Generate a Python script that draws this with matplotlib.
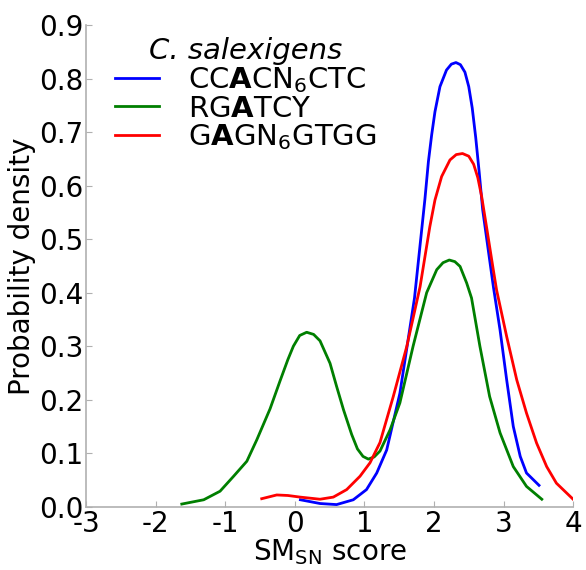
import matplotlib
matplotlib.use("Agg")
import matplotlib.pyplot as plt

plt.rcParams['axes.unicode_minus'] = False
plt.rcParams['mathtext.default'] = 'regular'
plt.rcParams['font.family'] = ['DejaVu Sans']

blue_x = [0.08, 0.362, 0.60, 0.84, 1.03, 1.177, 1.32, 1.51, 1.72, 1.87, 1.92, 1.967, 2.014, 2.086, 2.18, 2.25, 2.316,
          2.38, 2.445, 2.50, 2.55, 2.60, 2.65, 2.70, 2.78, 2.855, 2.95, 3.045, 3.14, 3.24, 3.33, 3.51]
blue_y = [0.013, 0.006, 0.004, 0.013, 0.032, 0.063, 0.106, 0.212, 0.39, 0.575, 0.645, 0.695, 0.738, 0.785, 0.816, 0.827, 0.830,
          0.826, 0.812, 0.785, 0.745, 0.690, 0.625, 0.555, 0.480, 0.410, 0.33, 0.237, 0.15, 0.094, 0.063, 0.04]

green_x = [-1.625, -1.31, -1.075, -0.88, -0.69, -0.547, -0.356, -0.213, -0.10, -0.021, 0.07, 0.17, 0.27, 0.362, 0.506, 0.60,
           0.70, 0.817, 0.90, 0.98, 1.056, 1.14, 1.224, 1.37, 1.51, 1.70, 1.895, 2.04, 2.13, 2.22, 2.30, 2.375, 2.47, 2.54,
           2.66, 2.80, 2.95, 3.14, 3.33, 3.55]
green_y = [0.005, 0.013, 0.029, 0.057, 0.085, 0.125, 0.183, 0.235, 0.275, 0.300, 0.320, 0.326, 0.322, 0.310, 0.268, 0.225,
           0.181, 0.135, 0.108, 0.094, 0.089, 0.093, 0.104, 0.144, 0.194, 0.30, 0.40, 0.443, 0.456, 0.461, 0.458, 0.449, 0.418,
           0.39, 0.30, 0.206, 0.138, 0.075, 0.038, 0.014]

red_x = [-0.476, -0.26, -0.10, 0.075, 0.362, 0.553, 0.745, 0.937, 1.08, 1.224, 1.415, 1.61, 1.80, 1.87, 1.94, 2.014, 2.11,
         2.23, 2.32, 2.41, 2.50, 2.57, 2.63, 2.685, 2.765, 2.85, 2.90, 3.045, 3.19, 3.33, 3.475, 3.62, 3.76, 4.0]
red_y = [0.015, 0.022, 0.021, 0.018, 0.014, 0.018, 0.032, 0.057, 0.082, 0.12, 0.206, 0.30, 0.411, 0.467, 0.523, 0.573, 0.617,
         0.648, 0.658, 0.660, 0.655, 0.640, 0.615, 0.580, 0.515, 0.445, 0.405, 0.318, 0.237, 0.175, 0.119, 0.075, 0.044, 0.014]

labels = [r"CC$\mathbf{A}$CN$_6$CTC", r"RG$\mathbf{A}$TCY", r"G$\mathbf{A}$GN$_6$GTGG"]
colors = ["#0000ff", "#007f00", "#ff0000"]
legend_title = "C. salexigens"

x_ticks = [-3, -2, -1, 0, 1, 2, 3, 4]
y_ticks = [0.0, 0.1, 0.2, 0.3, 0.4, 0.5, 0.6, 0.7, 0.8, 0.9]

fig = plt.figure(figsize=(5.86, 5.70), dpi=100)
ax = fig.add_axes([0.147, 0.111, 0.831, 0.845])

for xs, ys, c, lab in zip([blue_x, green_x, red_x], [blue_y, green_y, red_y], colors, labels):
    ax.plot(xs, ys, color=c, lw=2, label=lab, solid_joinstyle='round')

ax.set_xlim(-3, 4)
ax.set_ylim(0, 0.9)
ax.set_xticks(x_ticks)
ax.set_xticklabels([str(t) for t in x_ticks])
ax.set_yticks(y_ticks)
ax.set_yticklabels([f"{t:.1f}" for t in y_ticks])
ax.tick_params(direction='in', length=4, color='#b0b0b0', labelsize=20, pad=2)
for s in ['top', 'right']:
    ax.spines[s].set_visible(False)
for s in ['left', 'bottom']:
    ax.spines[s].set_color('#b0b0b0')
    ax.spines[s].set_linewidth(1.2)

ax.set_xlabel(r"SM$_{SN}$ score", fontsize=20, labelpad=0)
ax.set_ylabel("Probability density", fontsize=20, labelpad=2)

leg = ax.legend(loc='upper left', bbox_to_anchor=(0.035, 1.0), frameon=False, fontsize=21,
                title=legend_title, handlelength=1.5, handletextpad=1.0, labelspacing=0.0,
                borderaxespad=0.0)
leg.get_title().set_fontstyle('italic')
leg.get_title().set_fontsize(21)

fig.savefig("out.png", dpi=100)
